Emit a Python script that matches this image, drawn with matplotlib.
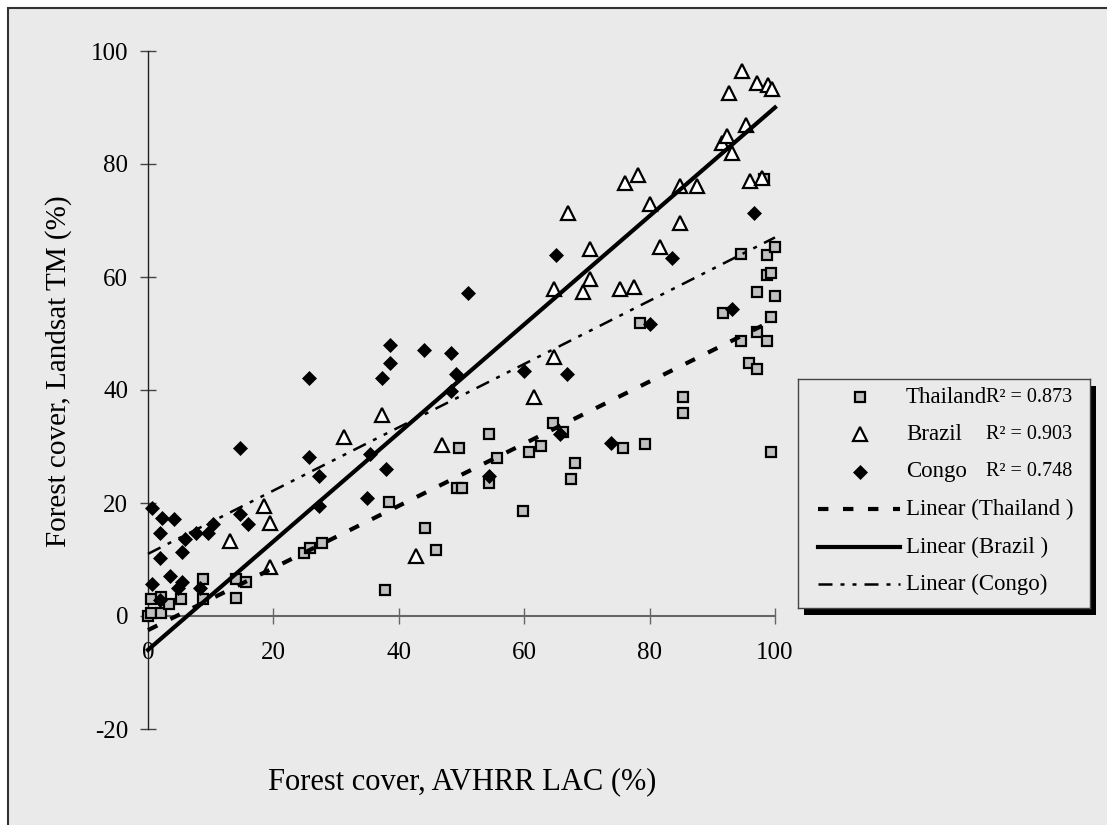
from matplotlib import pyplot as plt
from matplotlib.patches import Rectangle
from matplotlib.lines import Line2D
import numpy as np

W, H = 1107, 825

# Thailand
thai_x = [0.0, 0.4, 2.1, 0.4, 2.1, 3.4, 5.3, 8.7, 8.7, 14.1, 15.7, 14.1, 24.9, 25.9, 27.8,
          37.8, 38.4, 44.2, 46.0, 49.3, 50.1, 49.6, 54.4, 54.4, 55.7, 59.8, 60.8, 62.7,
          64.6, 66.2, 67.5, 68.1, 75.7, 79.3, 78.5, 85.3, 85.3, 91.7, 94.6, 94.6, 95.8,
          97.1, 97.1, 97.1, 98.7, 98.7, 98.7, 99.4, 99.4, 99.4, 100.0, 100.0, 98.2]
thai_y = [0.0, 0.5, 0.5, 3.0, 3.3, 2.2, 3.0, 3.0, 6.5, 6.5, 6.1, 3.2, 11.1, 12.1, 12.9,
          4.6, 20.2, 15.6, 11.7, 22.7, 22.7, 29.8, 23.5, 32.3, 28.0, 18.5, 29.1, 30.1,
          34.1, 32.6, 24.2, 27.0, 29.8, 30.4, 51.8, 38.7, 35.9, 53.6, 64.1, 48.6, 44.7,
          57.4, 50.3, 43.7, 63.9, 60.4, 48.6, 60.7, 52.9, 29.1, 65.3, 56.7, 77.3]

# Brazil
brazil_x = [13.1, 18.5, 19.5, 19.5, 31.3, 37.3, 42.7, 46.9, 61.6, 64.8, 64.8, 67.0, 69.3,
            70.5, 70.5, 75.3, 76.0, 77.5, 78.1, 80.1, 81.7, 84.8, 84.8, 87.6, 91.5, 92.4,
            92.6, 93.1, 94.8, 95.4, 96.0, 97.2, 98.0, 98.9, 99.6]
brazil_y = [13.3, 19.4, 16.5, 8.7, 31.6, 35.6, 10.7, 30.3, 38.7, 45.9, 57.8, 71.3, 57.4,
            59.6, 65.0, 57.8, 76.6, 58.2, 78.1, 73.0, 65.3, 76.1, 69.5, 76.1, 83.8, 84.9,
            92.6, 81.9, 96.5, 86.9, 77.0, 94.3, 77.5, 94.0, 93.2]

# Congo
congo_x = [0.6, 2.2, 4.2, 1.9, 5.9, 7.6, 9.5, 10.4, 14.7, 16.0, 1.9, 5.5, 3.5, 0.6, 5.4,
           4.8, 8.3, 1.9, 14.7, 25.6, 25.6, 27.2, 27.2, 35.0, 35.4, 38.0, 37.3, 38.6,
           38.6, 44.0, 48.4, 49.1, 48.4, 51.1, 54.4, 59.9, 65.1, 65.7, 66.9, 73.9, 80.1,
           83.6, 93.1, 96.7]
congo_y = [19.1, 17.3, 17.2, 14.7, 13.7, 14.7, 14.7, 16.2, 18.0, 16.2, 10.2, 11.3, 7.0,
           5.7, 6.1, 4.9, 4.9, 2.8, 29.7, 42.1, 28.2, 24.7, 19.4, 20.8, 28.7, 26.0, 42.1,
           44.8, 48.0, 47.0, 46.6, 42.8, 39.8, 57.2, 24.8, 43.4, 63.9, 32.2, 42.8, 30.7,
           51.6, 63.3, 54.3, 71.4]

# linear trend lines (slope, intercept) as shown
thai_fit = (0.55, -2.5)
brazil_fit = (0.96, -6.0)
congo_fit = (0.56, 11.0)

r2_labels = ['R\u00b2 = 0.873', 'R\u00b2 = 0.903', 'R\u00b2 = 0.748']
x_ticks = [0, 20, 40, 60, 80, 100]
y_ticks = [-20, 0, 20, 40, 60, 80, 100]

plt.rcParams['font.family'] = ['Liberation Serif', 'DejaVu Serif']
plt.rcParams['axes.unicode_minus'] = False

fig = plt.figure(figsize=(W / 100, H / 100), dpi=100)
fig.patch.set_facecolor('white')

# grey panel with frame on left/top
fig.add_artist(Rectangle((8 / W, -0.2), 1.3, 1.2 - 8 / H, transform=fig.transFigure,
                         facecolor='#eaeaea', edgecolor='#333333', lw=1.5, zorder=-5))

ax = fig.add_axes([148 / W, 1 - 729 / H, 627 / W, 678 / H])
ax.set_facecolor('none')
ax.set_xlim(0, 100)
ax.set_ylim(-20, 100)

sq = dict(marker='s', ms=7.4, mew=1.6, mfc='#c0c0c0', mec='black', ls='none')
tri = dict(marker='^', ms=9.5, mew=1.6, mfc='white', mec='black', ls='none')
dia = dict(marker='D', ms=7.3, mew=0.5, mfc='black', mec='black', ls='none')

ax.plot(thai_x, thai_y, clip_on=False, zorder=3, **sq)
ax.plot(brazil_x, brazil_y, clip_on=False, zorder=4, **tri)
ax.plot(congo_x, congo_y, clip_on=False, zorder=5, **dia)

thai_ls = (0, (2.5, 3.5))
congo_ls = (0, (5.6, 3.2, 1.6, 3.2, 1.6, 3.2))
xs = np.array([0, 100])
ax.plot(xs, thai_fit[0] * xs + thai_fit[1], color='black', lw=3, ls=thai_ls, zorder=6, clip_on=False)
ax.plot(xs, brazil_fit[0] * xs + brazil_fit[1], color='black', lw=3, zorder=6, clip_on=False)
ax.plot(xs, congo_fit[0] * xs + congo_fit[1], color='black', lw=1.8, ls=congo_ls, zorder=6, clip_on=False)

for side in ['top', 'right']:
    ax.spines[side].set_visible(False)
ax.spines['bottom'].set_position(('data', 0))
ax.spines['bottom'].set_color('#666666')
ax.spines['bottom'].set_linewidth(1.5)
ax.spines['left'].set_color('#222222')
ax.spines['left'].set_linewidth(1)

ax.set_xticks(x_ticks)
ax.set_yticks(y_ticks)
ax.tick_params(axis='x', direction='inout', length=11.5, width=1, color='#666666', pad=13, labelsize=18)
ax.tick_params(axis='y', direction='inout', length=11.5, width=1, color='#444444', pad=8.5, labelsize=18)

fig.text(462 / W, 1 - 782 / H, 'Forest cover, AVHRR LAC (%)', ha='center', va='center', fontsize=22)
fig.text(59 / W, 1 - 371 / H, 'Forest cover, Landsat TM (%)', ha='center', va='center',
         rotation=90, fontsize=21)

# legend box with shadow
lx0, lx1, ly0, ly1 = 798, 1090, 379, 608
fig.add_artist(Rectangle(((lx0 + 6) / W, 1 - (ly1 + 7) / H), (lx1 - lx0) / W, (ly1 - ly0) / H,
                         transform=fig.transFigure, facecolor='black', edgecolor='none', zorder=2))
lax = fig.add_axes([lx0 / W, 1 - ly1 / H, (lx1 - lx0) / W, (ly1 - ly0) / H], zorder=3)
lax.set_facecolor('#eaeaea')
lax.set_xlim(0, 1)
lax.set_ylim(0, 1)
lax.set_xticks([])
lax.set_yticks([])
for s in lax.spines.values():
    s.set_color('#444444')
    s.set_linewidth(1)

rows = [0.921, 0.758, 0.594, 0.432, 0.266, 0.105]
names = ['Thailand', 'Brazil', 'Congo', 'Linear (Thailand )', 'Linear (Brazil )', 'Linear (Congo)']
for style, r in zip([sq, tri, dia], rows[:3]):
    lax.add_line(Line2D([0.212], [r], **style))
lax.add_line(Line2D([0.068, 0.349], [rows[3]] * 2, color='black', lw=3, ls=thai_ls))
lax.add_line(Line2D([0.068, 0.349], [rows[4]] * 2, color='black', lw=3))
lax.add_line(Line2D([0.068, 0.349], [rows[5]] * 2, color='black', lw=1.8, ls=congo_ls))
for name, r in zip(names, rows):
    lax.text(0.37, r, name, ha='left', va='center', fontsize=16.5)
for lab, r in zip(r2_labels, rows[:3]):
    lax.text(0.645, r, lab, ha='left', va='center', fontsize=14.5)

fig.savefig('out.png', dpi=100)
